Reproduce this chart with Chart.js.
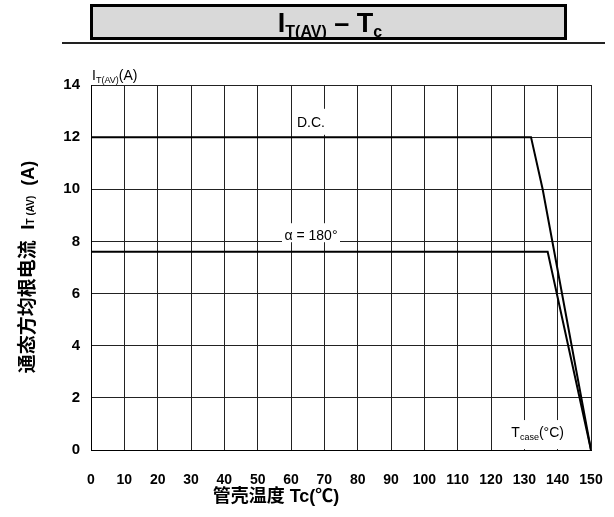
<!DOCTYPE html>
<html>
<head>
<meta charset="utf-8">
<style>
  html, body { margin: 0; padding: 0; background: #fff; }
  #chart { display: block; }
</style>
<script src="https://cdn.jsdelivr.net/npm/chart.js@4/dist/chart.umd.min.js"></script>
</head>
<body>
<canvas id="chart" width="614" height="517"></canvas>
<script>
// data
const dcTemp = [0, 132, 135.5, 150];
const dcCurrent = [12, 12, 10, 0];
const alphaTemp = [0, 137, 150];
const alphaCurrent = [7.6, 7.6, 0];
const xTicks = [0, 10, 20, 30, 40, 50, 60, 70, 80, 90, 100, 110, 120, 130, 140, 150];
const yTicks = [0, 2, 4, 6, 8, 10, 12, 14];

const NARROW = "'Liberation Sans Narrow', 'Liberation Sans', Arial, sans-serif";
const SANS = "'Liberation Sans', Arial, sans-serif";
const CJK = "'Liberation Sans', 'Noto Sans CJK SC', sans-serif";

const toPoints = (xs, ys) => xs.map((x, i) => ({ x: x, y: ys[i] }));

// draws a run of [text, font, dy] pieces starting at x
function drawRuns(ctx, runs, x, y) {
  runs.forEach(([t, font, dy]) => {
    ctx.font = font;
    ctx.fillText(t, x, y + (dy || 0));
    x += ctx.measureText(t).width;
  });
}
function runsWidth(ctx, runs) {
  let w = 0;
  runs.forEach(([t, font]) => { ctx.font = font; w += ctx.measureText(t).width; });
  return w;
}

// labels on the plot, with a white box cutting the grid
const notes = [
  { x: 66, y: 12.55, runs: [["D.C.", "14px " + NARROW]], box: [-17, -14, 34, 26] },
  { x: 66, y: 8.2, runs: [["\u03b1 = 180\u00b0", "14px " + NARROW]], box: [-29, -13, 58, 19] },
  { x: 134, y: 0.65, runs: [["T", "14px " + NARROW], ["case", "9px " + NARROW, 4], ["(\u00b0C)", "14px " + NARROW]], box: [-32, -13, 64, 29] }
];

const decor = {
  id: "decor",
  beforeDraw(chart) {
    const ctx = chart.ctx;
    ctx.save();
    ctx.fillStyle = "#fff";
    ctx.fillRect(0, 0, chart.width, chart.height);

    // title box
    ctx.fillStyle = "#d9d9d9";
    ctx.fillRect(91, 5, 475, 34);
    ctx.strokeStyle = "#000";
    ctx.lineWidth = 3;
    ctx.strokeRect(91.5, 5.5, 474, 33);
    ctx.strokeStyle = "#222";
    ctx.lineWidth = 2;
    ctx.beginPath();
    ctx.moveTo(62, 43);
    ctx.lineTo(605, 43);
    ctx.stroke();

    ctx.fillStyle = "#000";
    ctx.textBaseline = "alphabetic";
    const title = [["I", "bold 27px " + SANS], ["T(AV)", "bold 16px " + SANS, 5], [" \u2013 T", "bold 27px " + SANS], ["c", "bold 16px " + SANS, 5]];
    drawRuns(ctx, title, 330 - runsWidth(ctx, title) / 2, 32);

    // unit label above the plot
    const unit = [["I", "14px " + NARROW], ["T(AV)", "9px " + NARROW, 3], ["(A)", "14px " + NARROW]];
    drawRuns(ctx, unit, 92, 80);

    // y axis title, rotated
    const yTitle = [["\u901a\u6001\u65b9\u5747\u6839\u7535\u6d41  I", "bold 19px " + CJK], ["T (AV)", "bold 10px " + SANS, 0], ["  (A)", "bold 18px " + CJK]];
    ctx.translate(34, 267);
    ctx.rotate(-Math.PI / 2);
    drawRuns(ctx, yTitle, -runsWidth(ctx, yTitle) / 2, 0);
    ctx.restore();

    // x axis title
    ctx.save();
    ctx.fillStyle = "#000";
    ctx.font = "bold 18px " + CJK;
    ctx.textAlign = "center";
    ctx.textBaseline = "middle";
    ctx.fillText("\u7ba1\u58f3\u6e29\u5ea6 Tc(\u2103)", 276, 497);
    ctx.restore();
  },
  beforeDatasetsDraw(chart) {
    const ctx = chart.ctx;
    const xs = chart.scales.x, ys = chart.scales.y;
    ctx.save();
    notes.forEach(n => {
      const px = xs.getPixelForValue(n.x), py = ys.getPixelForValue(n.y);
      ctx.fillStyle = "#fff";
      ctx.fillRect(px + n.box[0], py + n.box[1], n.box[2], n.box[3]);
      ctx.fillStyle = "#000";
      ctx.textBaseline = "middle";
      drawRuns(ctx, n.runs, px - runsWidth(ctx, n.runs) / 2, py);
    });
    ctx.restore();
  }
};

new Chart(document.getElementById("chart"), {
  type: "line",
  data: {
    datasets: [
      {
        label: "D.C.",
        data: toPoints(dcTemp, dcCurrent),
        borderColor: "#000",
        borderWidth: 2,
        pointRadius: 0,
        tension: 0,
        fill: false
      },
      {
        label: "\u03b1 = 180\u00b0",
        data: toPoints(alphaTemp, alphaCurrent),
        borderColor: "#000",
        borderWidth: 2,
        pointRadius: 0,
        tension: 0,
        fill: false
      }
    ]
  },
  options: {
    responsive: false,
    animation: false,
    layout: { padding: { top: 85, right: 23, left: 0, bottom: 0 } },
    plugins: {
      legend: { display: false },
      tooltip: { enabled: false }
    },
    scales: {
      x: {
        type: "linear",
        min: 0,
        max: 150,
        afterFit: s => { s.height = 67; s.paddingLeft = 0; s.paddingRight = 0; },
        afterBuildTicks: s => { s.ticks = xTicks.map(v => ({ value: v })); },
        grid: { color: "#222", lineWidth: 1, drawTicks: false },
        border: { color: "#000", width: 1 },
        ticks: {
          color: "#000",
          padding: 22,
          maxRotation: 0,
          autoSkip: false,
          font: { family: NARROW, size: 14, weight: "bold" }
        }
      },
      y: {
        min: 0,
        max: 14,
        afterFit: s => { s.width = 91; s.paddingTop = 0; s.paddingBottom = 0; },
        afterBuildTicks: s => { s.ticks = yTicks.map(v => ({ value: v })); },
        grid: { color: "#222", lineWidth: 1, drawTicks: false },
        border: { color: "#000", width: 1 },
        ticks: {
          color: "#000",
          padding: 11,
          autoSkip: false,
          font: { family: NARROW, size: 15, weight: "bold" }
        }
      }
    }
  },
  plugins: [decor]
});
</script>
</body>
</html>
